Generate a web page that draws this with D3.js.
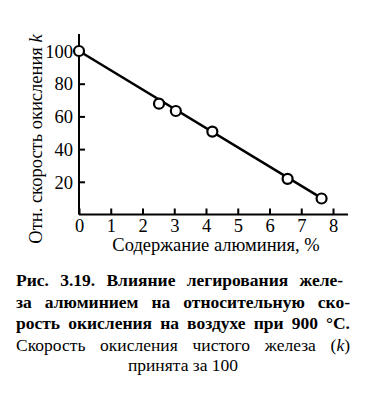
<!DOCTYPE html>
<meta charset="utf-8">
<style>
body { margin: 0; background: #fff; }
svg text { font-family: "Liberation Serif", "Times New Roman", serif; fill: #000; }
.axis path, .axis line { stroke: #000; stroke-width: 2px; }
.axis text { font-size: 18.5px; }
.cap { font-size: 17.5px; }
</style>
<svg width="369" height="395"></svg>
<script src="https://cdn.jsdelivr.net/npm/d3@7"></script>
<script>

// measured points: aluminium content (%) vs relative oxidation rate k
var alContent = [0, 2.52, 3.05, 4.2, 6.57, 7.64];
var rateK = [100, 67.8, 63.3, 50.7, 21.8, 9.8];

// straight line drawn through the data
var fitX = [0, 7.64];
var fitY = [100, 10];

var xTicks = [0, 1, 2, 3, 4, 5, 6, 7, 8];
var yTicks = [20, 40, 60, 80, 100];

var captionBold = [
  "Рис.  3.19. Влияние легирования желе-",
  "за алюминием на относительную ско-",
  "рость окисления на воздухе при 900 °С."
];
var captionNormal = [
  "Скорость окисления чистого железа (k)",
  "принята за 100"
];

var svg = d3.select("svg");

var x = d3.scaleLinear().domain([0, 8]).range([79, 333]);
var y = d3.scaleLinear().domain([0, 100]).range([214.5, 51]);

// stretch word gaps so a line fills the given width
function justify(sel, width) {
  var n = (sel.text().match(/ /g) || []).length;
  var len = sel.node().getComputedTextLength();
  if (n > 0 && len < width) sel.attr("word-spacing", (width - len) / n);
  if (len > width) sel.attr("textLength", width).attr("lengthAdjust", "spacingAndGlyphs");
}

// x axis, ticks pointing inward
var xAxis = svg.append("g")
    .attr("class", "axis")
    .attr("transform", "translate(0," + y(0) + ")")
    .call(d3.axisBottom(x).tickValues(xTicks).tickSizeInner(-6).tickSizeOuter(0));
xAxis.attr("font-family", null).attr("font-size", null);
xAxis.select(".domain").attr("d", "M" + x(0) + ",0H348");
xAxis.selectAll("text").attr("y", 4).attr("dy", "0.71em");

var yAxis = svg.append("g")
    .attr("class", "axis")
    .attr("transform", "translate(" + x(0) + ",0)")
    .call(d3.axisLeft(y).tickValues(yTicks).tickSizeInner(-6).tickSizeOuter(0));
yAxis.attr("font-family", null).attr("font-size", null);
yAxis.select(".domain").attr("d", "M0,34V" + y(0));
yAxis.selectAll("text").attr("x", -6).attr("dy", "0.34em");

svg.append("text")
    .attr("x", 216)
    .attr("y", 251)
    .attr("text-anchor", "middle")
    .attr("font-size", 18.5)
    .text("Содержание алюминия, %");

var yl = svg.append("text")
    .attr("transform", "translate(42,139) rotate(-90)")
    .attr("text-anchor", "middle")
    .attr("font-size", 18.5);
yl.append("tspan").text("Отн. скорость окисления ");
yl.append("tspan").attr("font-style", "italic").text("k");

// line
var pts = fitX.map(function(d, i) { return [d, fitY[i]]; });
svg.append("path")
    .datum(pts)
    .attr("fill", "none")
    .attr("stroke", "#000")
    .attr("stroke-width", 2.5)
    .attr("d", d3.line().x(function(d) { return x(d[0]); }).y(function(d) { return y(d[1]); }));

svg.selectAll(".pt")
    .data(alContent)
    .enter().append("circle")
    .attr("class", "pt")
    .attr("cx", function(d) { return x(d); })
    .attr("cy", function(d, i) { return y(rateK[i]); })
    .attr("r", 5)
    .attr("fill", "#fff")
    .attr("stroke", "#000")
    .attr("stroke-width", 2.2);

// caption
captionBold.forEach(function(t, i) {
  var c = svg.append("text")
      .attr("class", "cap")
      .attr("x", 16)
      .attr("y", 286 + i * 21.5)
      .attr("font-weight", "bold")
      .text(t);
  justify(c, 334);
});

var c4 = svg.append("text")
    .attr("class", "cap")
    .attr("x", 16)
    .attr("y", 350.5);
c4.append("tspan").text("Скорость окисления чистого железа (");
c4.append("tspan").attr("font-style", "italic").text("k");
c4.append("tspan").text(")");
justify(c4, 334);

svg.append("text")
    .attr("class", "cap")
    .attr("x", 183)
    .attr("y", 371)
    .attr("text-anchor", "middle")
    .text(captionNormal[1]);

</script>
